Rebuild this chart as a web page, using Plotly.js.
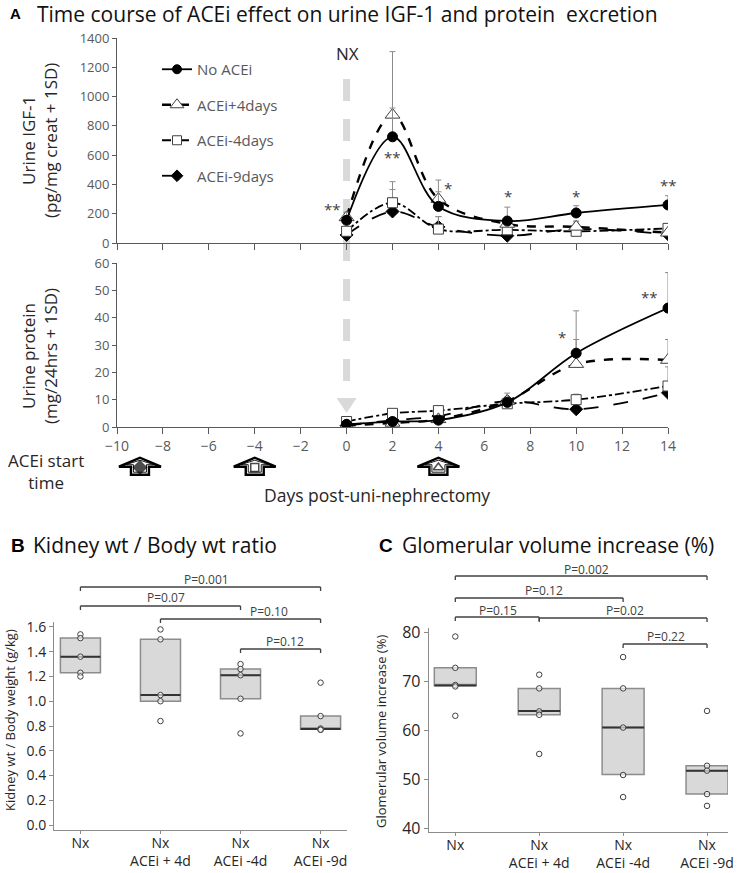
<!DOCTYPE html>
<html><head><meta charset="utf-8">
<script src="https://cdn.plot.ly/plotly-3.0.1.min.js"></script>
<style>html,body{margin:0;padding:0;background:#fff}#chart{width:738px;height:873px}</style>
</head><body><div id="chart"></div>
<script>
// ---------- DATA ----------
const days = [0, 2, 4, 7, 10, 14];
const seriesNames = ['No ACEi', 'ACEi+4days', 'ACEi-4days', 'ACEi-9days'];

const igfNoAcei   = [155, 725, 250, 150, 205, 260];
const igfNoAceiSD = [55, 197, 100, 95, 50, 63];
const igfPlus4    = [175, 875, 300, 130, 110, 70];
const igfPlus4SD  = [35, 432, 130, 20, 20, 15];
const igfMinus4   = [80, 275, 95, 90, 80, 100];
const igfMinus4SD = [20, 144, 85, 60, 65, 20];
const igfMinus9   = [55, 215, 110, 50, 95, 60];
const igfMinus9SD = [20, 150, 70, 10, 55, 15];

const protNoAcei   = [1, 2, 2.5, 9, 27, 43.5];
const protNoAceiSD = [0.5, 0.5, 0.5, 3.4, 15.5, 13];
const protPlus4    = [0.5, 1.5, 2.8, 9.5, 23, 24.5];
const protPlus4SD  = [0.3, 0.5, 0.5, 1, 9, 7.5];
const protMinus4   = [2, 5, 6, 8.5, 10, 15];
const protMinus4SD = [0.5, 0.5, 0.5, 1, 2, 7];
const protMinus9   = [0.5, 2.5, 4, 9.5, 6.5, 12.5];
const protMinus9SD = [0.3, 0.5, 0.5, 1, 0.5, 1];

const sigIgfX    = [-0.6, 2.0, 4.4, 7.05, 10.0, 14.0];
const sigIgfY    = [232, 587, 376, 321, 321, 396];
const sigIgfText = ['**', '**', '*', '*', '*', '**'];
const sigProtX    = [9.4, 13.2];
const sigProtY    = [33, 47.5];
const sigProtText = ['*', '**'];

const nxDay = 0;
const startDays = [-9, -4, 4];

const catLabels = ['Nx', 'Nx<br>ACEi + 4d', 'Nx<br>ACEi -4d', 'Nx<br>ACEi -9d'];

// Panel B: kidney wt / body wt
const kidneyPoints = [
  [1.54, 1.51, 1.36, 1.23, 1.20],
  [1.58, 1.50, 1.05, 1.00, 0.84],
  [1.30, 1.26, 1.21, 1.02, 0.74],
  [1.15, 0.88, 0.78, 0.77, 0.77]
];
const kidneyQ1     = [1.23, 1.00, 1.02, 0.775];
const kidneyMedian = [1.36, 1.05, 1.21, 0.775];
const kidneyQ3     = [1.51, 1.50, 1.26, 0.88];
const pFromB  = [0, 0, 1, 2];
const pToB    = [3, 2, 3, 3];
const pTextB  = ['P=0.001', 'P=0.07', 'P=0.10', 'P=0.12'];

// Panel C: glomerular volume increase
const glomPoints = [
  [79.2, 72.8, 69.3, 69.0, 63.0],
  [71.4, 68.6, 63.9, 63.2, 55.2],
  [75.0, 68.6, 60.6, 50.9, 46.4],
  [64.0, 52.8, 51.8, 47.0, 44.6]
];
const glomQ1     = [69.2, 63.2, 51.0, 47.0];
const glomMedian = [69.2, 64.0, 60.6, 51.8];
const glomQ3     = [72.8, 68.6, 68.6, 52.8];
const pFromC  = [0, 0, 0, 1, 2];
const pToC    = [3, 2, 1, 3, 3];
const pTextC  = ['P=0.002', 'P=0.12', 'P=0.15', 'P=0.02', 'P=0.22'];

// ---------- LAYOUT HELPERS ----------
const W = 738, H = 873;
const px = v => v / W;
const py = v => 1 - v / H;
const FONT = 'Open Sans, Lato, sans-serif';
const TICKC = '#595959';
const DARK = '#262626';

const styles = [
  {dash: 'solid',   width: 1.8, symbol: 'circle',      size: 10, color: '#000', lc: '#000'},
  {dash: 'dash',    width: 2.4, symbol: 'triangle-up', size: 13, color: '#fff', lc: '#404040'},
  {dash: 'dashdot', width: 1.8, symbol: 'square',      size: 10, color: '#fff', lc: '#404040'},
  {dash: 'longdash',width: 1.8, symbol: 'diamond',     size: 10, color: '#000', lc: '#000'}
];

const igfVals = [igfNoAcei, igfPlus4, igfMinus4, igfMinus9];
const igfSD   = [igfNoAceiSD, igfPlus4SD, igfMinus4SD, igfMinus9SD];
const protVals = [protNoAcei, protPlus4, protMinus4, protMinus9];
const protSD   = [protNoAceiSD, protPlus4SD, protMinus4SD, protMinus9SD];

const traces = [];
const drawOrder = [3, 2, 1, 0];
function addSeries(vals, sds, xa, ya) {
  drawOrder.forEach(i => {
    const s = styles[i];
    traces.push({
      type: 'scatter', mode: 'lines+markers', x: days, y: vals[i],
      xaxis: xa, yaxis: ya, showlegend: false, name: seriesNames[i],
      line: {color: '#000', width: s.width, dash: s.dash, shape: 'spline', smoothing: 1},
      marker: {symbol: s.symbol, size: s.size, color: s.color, line: {color: s.lc, width: 1}},
      error_y: {type: 'data', symmetric: false, array: sds[i], arrayminus: sds[i].map(() => 0),
                color: '#8c8c8c', thickness: 1, width: 3},
      hoverinfo: 'skip'
    });
  });
}
addSeries(igfVals, igfSD, 'x', 'y');
addSeries(protVals, protSD, 'x2', 'y2');

// legend keys
seriesNames.forEach((n, i) => {
  const s = styles[i];
  traces.push({
    type: 'scatter', mode: 'lines+markers', x: [null], y: [null], xaxis: 'x', yaxis: 'y',
    name: n, legendgroup: 'g' + i, showlegend: true,
    line: {color: '#000', width: s.width, dash: s.dash},
    marker: {symbol: s.symbol, size: s.size - 1, color: s.color, line: {color: s.lc, width: 1}}
  });
});

// ACEi start arrow markers
const arrowLevel = 15;
traces.push({
  type: 'scatter', mode: 'markers', x: startDays, y: startDays.map(() => arrowLevel - 0.5),
  xaxis: 'x3', yaxis: 'y3', showlegend: false, hoverinfo: 'skip',
  marker: {symbol: ['diamond', 'square', 'triangle-up'], size: [10, 8, 9],
           color: ['#000', '#fff', '#fff'], line: {color: '#000', width: 1.5}}
});

// Box panels
function addBoxPanel(points, q1, med, q3, xa, ya, medSize) {
  traces.push({
    type: 'box', x: catLabels, q1: q1, median: med, q3: q3, lowerfence: q1, upperfence: q3,
    xaxis: xa, yaxis: ya, showlegend: false, boxpoints: false, width: 0.5,
    fillcolor: '#d9d9d9', line: {color: '#8c8c8c', width: 1.5}, hoverinfo: 'skip'
  });
  traces.push({
    type: 'scatter', mode: 'markers', x: catLabels, y: med, xaxis: xa, yaxis: ya,
    showlegend: false, hoverinfo: 'skip',
    marker: {symbol: 'line-ew', size: medSize, line: {color: '#333', width: 2}}
  });
  const xs = [], ys = [];
  points.forEach((arr, i) => arr.forEach(v => { xs.push(catLabels[i]); ys.push(v); }));
  traces.push({
    type: 'scatter', mode: 'markers', x: xs, y: ys, xaxis: xa, yaxis: ya,
    showlegend: false, hoverinfo: 'skip',
    marker: {symbol: 'circle', size: 5.5, color: 'rgba(255,255,255,0.6)', line: {color: '#404040', width: 1}}
  });
}
addBoxPanel(kidneyPoints, kidneyQ1, kidneyMedian, kidneyQ3, 'x5', 'y5', 28.6);
addBoxPanel(glomPoints, glomQ1, glomMedian, glomQ3, 'x6', 'y6', 30);

// ---------- AXES ----------
const xDomA = [px(117), px(668)];
const lineAxis = {showline: true, linecolor: '#595959', linewidth: 1, showgrid: false, zeroline: false,
                  ticks: 'outside', tickcolor: '#595959', fixedrange: true};

const layout = {
  width: W, height: H, margin: {l: 0, r: 0, t: 0, b: 0},
  paper_bgcolor: '#fff', plot_bgcolor: 'rgba(0,0,0,0)',
  font: {family: FONT, color: DARK},
  showlegend: true,
  legend: {x: px(157), y: py(53), xanchor: 'left', yanchor: 'top', bgcolor: 'rgba(0,0,0,0)',
           font: {size: 15, color: TICKC, family: FONT}, itemwidth: 30, tracegroupgap: 13,
           traceorder: 'grouped'},
  xaxis: Object.assign({}, lineAxis, {domain: xDomA, range: [-10, 14], dtick: 2, tick0: 0, ticklen: 6,
          showticklabels: false, anchor: 'y'}),
  yaxis: Object.assign({}, lineAxis, {domain: [py(243), py(38)], range: [0, 1400], dtick: 200, ticklen: 4,
          tickfont: {size: 13, color: TICKC}, anchor: 'x'}),
  xaxis2: Object.assign({}, lineAxis, {domain: xDomA, range: [-10, 14], dtick: 2, tick0: 0, ticklen: 6,
          tickfont: {size: 14, color: TICKC}, anchor: 'y2'}),
  yaxis2: Object.assign({}, lineAxis, {domain: [py(427), py(263)], range: [0, 60], dtick: 10, ticklen: 4,
          tickfont: {size: 13, color: TICKC}, anchor: 'x2'}),
  xaxis3: {domain: xDomA, range: [-10, 14], visible: false, anchor: 'y3', fixedrange: true},
  yaxis3: {domain: [py(482), py(452)], range: [0, 30], visible: false, anchor: 'x3', fixedrange: true},
  xaxis5: Object.assign({}, lineAxis, {domain: [px(54), px(347)], type: 'category', categoryarray: catLabels,
          range: [-0.33, 3.33], ticklen: 3, linecolor: '#8c8c8c', tickcolor: '#8c8c8c', ticklabelstandoff: -3,
          tickfont: {size: 14, color: DARK}, anchor: 'y5'}),
  yaxis5: Object.assign({}, lineAxis, {domain: [py(830), py(622)], range: [-0.04, 1.64], dtick: 0.2, tick0: 0,
          tickformat: '.1f', ticklen: 4, linecolor: '#8c8c8c', tickcolor: '#8c8c8c',
          tickfont: {size: 14, color: DARK}, anchor: 'x5'}),
  xaxis6: Object.assign({}, lineAxis, {domain: [px(428.7), px(728)], type: 'category', categoryarray: catLabels,
          range: [-0.317, 3.25], ticklen: 3, linecolor: '#8c8c8c', tickcolor: '#8c8c8c', ticklabelstandoff: -3,
          tickfont: {size: 14, color: DARK}, anchor: 'y6'}),
  yaxis6: Object.assign({}, lineAxis, {domain: [py(832.3), py(627.7)], range: [39.2, 81], dtick: 10,
          ticklen: 4, linecolor: '#8c8c8c', tickcolor: '#8c8c8c',
          tickfont: {size: 16, color: DARK}, anchor: 'x6'}),
  shapes: [],
  annotations: []
};

// NX dashed line and arrowhead
layout.shapes.push({type: 'line', xref: 'x', yref: 'paper', x0: nxDay, x1: nxDay, y0: py(79), y1: py(396),
  line: {color: '#d9d9d9', width: 7, dash: '22px,18px'}, layer: 'below'});
layout.shapes.push({type: 'path', xref: 'x2', yref: 'paper', xsizemode: 'pixel', ysizemode: 'pixel',
  xanchor: nxDay, yanchor: py(398), path: 'M -10,0 L 10,0 L 0,-15 Z',
  fillcolor: '#d9d9d9', line: {width: 0}, layer: 'below'});

// ACEi start block arrows (outer thick outline + inner thin outline)
const arrowOuter = 'M -21,0 L 0,9 L 21,0 L 9,0 L 9,-8 L -9,-8 L -9,0 Z';
const arrowInner = 'M -14,2 L 0,6.5 L 14,2 L 6.5,2 L 6.5,-5.5 L -6.5,-5.5 L -6.5,2 Z';
startDays.forEach(d => {
  layout.shapes.push({type: 'path', xref: 'x3', yref: 'y3', xsizemode: 'pixel', ysizemode: 'pixel',
    xanchor: d, yanchor: arrowLevel + 0.3, path: arrowOuter, fillcolor: '#fff',
    line: {color: '#000', width: 2.4}, layer: 'below'});
  layout.shapes.push({type: 'path', xref: 'x3', yref: 'y3', xsizemode: 'pixel', ysizemode: 'pixel',
    xanchor: d, yanchor: arrowLevel + 0.3, path: arrowInner, fillcolor: 'rgba(0,0,0,0)',
    line: {color: '#000', width: 0.9}, layer: 'below'});
});

// Brackets
function addBrackets(xa, from, to, texts, levels, labelX, labelY) {
  from.forEach((f, i) => {
    const yl = py(levels[i]), yt = py(levels[i] + 4);
    const ln = {color: '#404040', width: 1.3};
    layout.shapes.push({type: 'line', xref: xa, yref: 'paper', x0: f, x1: to[i], y0: yl, y1: yl, line: ln});
    layout.shapes.push({type: 'line', xref: xa, yref: 'paper', x0: f, x1: f, y0: yl, y1: yt, line: ln});
    layout.shapes.push({type: 'line', xref: xa, yref: 'paper', x0: to[i], x1: to[i], y0: yl, y1: yt, line: ln});
    layout.annotations.push({xref: xa, yref: 'paper', x: labelX[i], y: py(labelY[i]), text: texts[i],
      showarrow: false, xanchor: 'center', yanchor: 'middle', font: {size: 12, color: '#404040'}});
  });
}
addBrackets('x5', pFromB, pToB, pTextB, [587, 606, 619, 649], [1.58, 1.07, 2.35, 2.55], [579, 597, 611, 641]);
addBrackets('x6', pFromC, pToC, pTextC, [576, 598, 617, 618, 644], [1.56, 1.06, 0.51, 2.02, 2.51], [569, 590, 610, 610, 636]);

// Significance stars
sigIgfText.forEach((t, i) => layout.annotations.push({xref: 'x', yref: 'y', x: sigIgfX[i], y: sigIgfY[i],
  text: t, showarrow: false, font: {size: 15, color: '#404040'}}));
sigProtText.forEach((t, i) => layout.annotations.push({xref: 'x2', yref: 'y2', x: sigProtX[i], y: sigProtY[i],
  text: t, showarrow: false, font: {size: 15, color: '#404040'}}));

// Texts
function txt(x, y, text, size, opts) {
  layout.annotations.push(Object.assign({xref: 'paper', yref: 'paper', x: px(x), y: py(y), text: text,
    showarrow: false, xanchor: 'left', yanchor: 'middle', font: {size: size, color: DARK, family: FONT}}, opts || {}));
}
txt(8, 14, '<b>A</b>', 15, {font: {size: 15, color: '#000', family: 'Liberation Sans, Arial'}});
txt(35, 14, 'Time course of ACEi effect on urine IGF-1 and protein \u00a0excretion', 21, {font: {size: 21, color: '#111', family: FONT}});
txt(347, 53, 'NX', 17, {xanchor: 'center'});
txt(40, 141, 'Urine IGF-1<br>(pg/mg creat + 1SD)', 17, {xanchor: 'center', textangle: -90});
txt(39, 356, 'Urine protein<br>(mg/24hrs + 1SD)', 17, {xanchor: 'center', textangle: -90});
txt(46, 471, 'ACEi start<br>time', 17, {xanchor: 'center'});
txt(377, 495, 'Days post-uni-nephrectomy', 17.5, {xanchor: 'center'});
txt(9, 545, '<b>B</b>', 19, {font: {size: 19, color: '#000', family: 'Liberation Sans, Arial'}});
txt(31, 545, 'Kidney wt / Body wt ratio', 21, {font: {size: 21, color: '#111', family: FONT}});
txt(377, 545, '<b>C</b>', 19, {font: {size: 19, color: '#000', family: 'Liberation Sans, Arial'}});
txt(400, 545, 'Glomerular volume increase (%)', 21, {font: {size: 21, color: '#111', family: FONT}});
txt(10, 720, 'Kidney wt / Body weight (g/kg)', 13, {xanchor: 'center', textangle: -90});
txt(381, 732, 'Glomerular volume increase (%)', 13, {xanchor: 'center', textangle: -90});

Plotly.newPlot('chart', traces, layout, {staticPlot: true, displayModeBar: false});
</script>
</body></html>
